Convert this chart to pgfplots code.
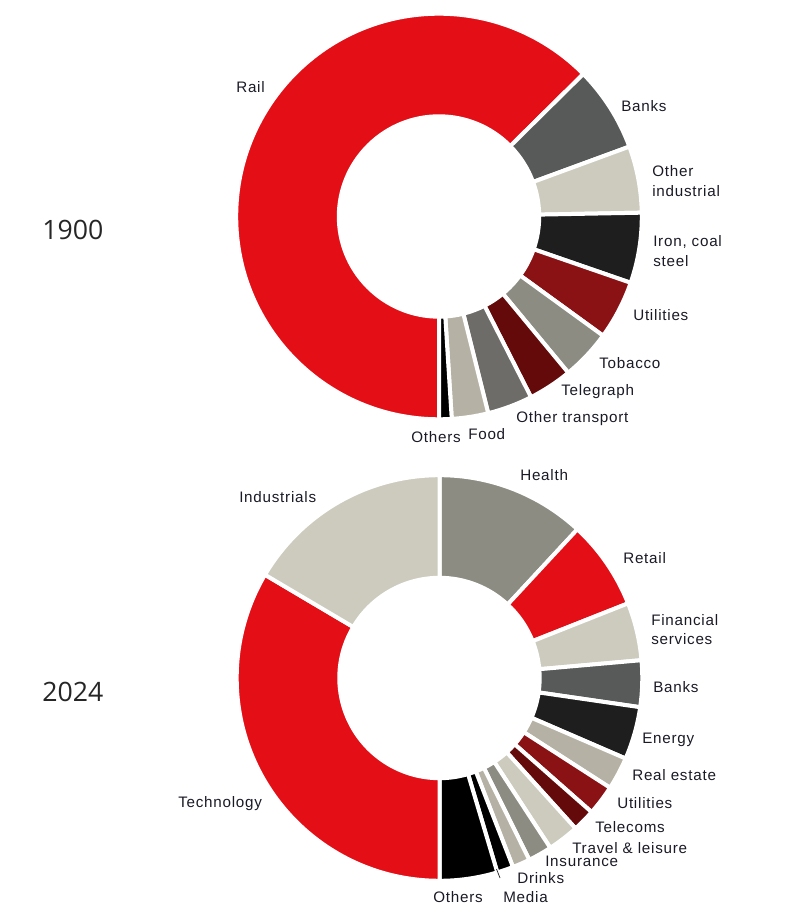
\documentclass[border=0pt]{standalone}
\usepackage{pgfplots}
\pgfplotsset{compat=1.18}
\usepackage{pgfplotstable}
\usepackage{fontspec}
\setmainfont{Liberation Sans}[LetterSpace=5]
\newfontfamily\yearfont{Open Sans}

\definecolor{cRed}{HTML}{E40E16}
\definecolor{cDGray}{HTML}{585A59}
\definecolor{cBeige}{HTML}{CDCBBE}
\definecolor{cBlack}{HTML}{1E1E1E}
\definecolor{cDRed}{HTML}{8A1114}
\definecolor{cMGray}{HTML}{8C8C82}
\definecolor{cVDRed}{HTML}{640A0A}
\definecolor{cOTGray}{HTML}{6E6C68}
\definecolor{cKhaki}{HTML}{B5B2A5}
\definecolor{cPure}{HTML}{000000}
\definecolor{cText}{HTML}{1A1A26}

% 1900: share of market (%), clockwise from 6 o'clock
\pgfplotstableread[col sep=comma]{
label,value,color
Rail,62.6,cRed
Banks,6.8,cDGray
Other industrial,5.3,cBeige
Iron coal steel,5.6,cBlack
Utilities,4.7,cDRed
Tobacco,4.0,cMGray
Telegraph,3.5,cVDRed
Other transport,3.6,cOTGray
Food,2.9,cKhaki
Others,1.0,cPure
}\tableA

% 2024: share of market (%), clockwise from 12 o'clock
\pgfplotstableread[col sep=comma]{
label,value,color
Health,11.9,cMGray
Retail,7.1,cRed
Financial services,4.6,cBeige
Banks,3.7,cDGray
Energy,4.2,cBlack
Real estate,2.6,cKhaki
Utilities,2.4,cDRed
Telecoms,1.8,cVDRed
Travel & leisure,2.5,cBeige
Insurance,1.9,cMGray
Drinks,1.4,cKhaki
Media,1.3,cPure
Others,4.6,cPure
Technology,33.5,cRed
Industrials,16.5,cBeige
}\tableB

\def\Ro{202.8}
\def\Ri{100.2}
\def\RoPt{152.1pt}
\def\RiPt{75.15pt}

\newcommand{\drawdonut}[4]{%
  \pgfplotstablegetrowsof{#1}%
  \pgfmathtruncatemacro\nlast{\pgfplotsretval-1}%
  \pgfmathsetmacro\acc{#4}%
  \pgfplotsforeachungrouped \i in {0,...,\nlast}{%
    \pgfplotstablegetelem{\i}{value}\of{#1}\let\segval\pgfplotsretval
    \pgfplotstablegetelem{\i}{color}\of{#1}\let\segcol\pgfplotsretval
    \pgfmathsetmacro\aone{90-\acc}%
    \pgfmathsetmacro\acc{\acc+3.6*\segval}%
    \pgfmathsetmacro\atwo{90-\acc}%
    \pgfmathsetmacro\xout{#2+\Ro*cos(\aone)}%
    \pgfmathsetmacro\yout{#3+\Ro*sin(\aone)}%
    \pgfmathsetmacro\xinn{#2+\Ri*cos(\atwo)}%
    \pgfmathsetmacro\yinn{#3+\Ri*sin(\atwo)}%
    \edef\temp{\noexpand\fill[fill=\segcol,draw=white,line width=3pt]
      (axis cs:\xout,\yout) arc[start angle=\aone,end angle=\atwo,radius=\RoPt]
      -- (axis cs:\xinn,\yinn) arc[start angle=\atwo,end angle=\aone,radius=\RiPt] -- cycle;}%
    \temp
  }%
}

\newcommand\lbl{\fontsize{11.4}{14.6}\selectfont}

\begin{document}
\begin{tikzpicture}
\begin{axis}[x=0.75pt, y=0.75pt, xmin=0, xmax=788, ymin=0, ymax=918,
  hide axis, clip=false]
\path (axis cs:0,0) rectangle (axis cs:788,918);
\drawdonut{\tableA}{439}{701.5}{180}
\drawdonut{\tableB}{439.5}{240}{0}

\begin{scope}[every node/.style={anchor=west, font=\lbl, text=cText, inner sep=0pt, align=left}]
% 1900 labels
\node at (axis cs:236,831) {Rail};
\node at (axis cs:621,812) {Banks};
\node at (axis cs:652,737) {Other\\industrial};
\node at (axis cs:653,667) {Iron, coal\\steel};
\node at (axis cs:633,603) {Utilities};
\node at (axis cs:599,554.7) {Tobacco};
\node at (axis cs:561,526.3) {Telegraph};
\node at (axis cs:516,499.7) {Other transport};
\node at (axis cs:468,484) {Food};
\node at (axis cs:411,481) {Others};
% 2024 labels
\node at (axis cs:520,443) {Health};
\node at (axis cs:623,359.7) {Retail};
\node at (axis cs:651,288.5) {Financial\\services};
\node at (axis cs:653,231.3) {Banks};
\node at (axis cs:642,178) {Energy};
\node at (axis cs:632,143) {Real estate};
\node at (axis cs:617,114.7) {Utilities};
\node at (axis cs:595,91.3) {Telecoms};
\node at (axis cs:572,69.7) {Travel \& leisure};
\node at (axis cs:545,56.3) {Insurance};
\node at (axis cs:517,39.7) {Drinks};
\node at (axis cs:503,21.3) {Media};
\node at (axis cs:433,21.3) {Others};
\node at (axis cs:178,114.7) {Technology};
\node at (axis cs:239,420.7) {Industrials};
% years
\node[font=\yearfont\fontsize{20}{24}\selectfont, text=black!85] at (axis cs:42,688.5) {1900};
\node[font=\yearfont\fontsize{20}{24}\selectfont, text=black!85] at (axis cs:42,226) {2024};
\end{scope}
\draw[cText, line width=0.5pt] (axis cs:500,40) -- (axis cs:496.5,49);
\end{axis}
\end{tikzpicture}
\end{document}
